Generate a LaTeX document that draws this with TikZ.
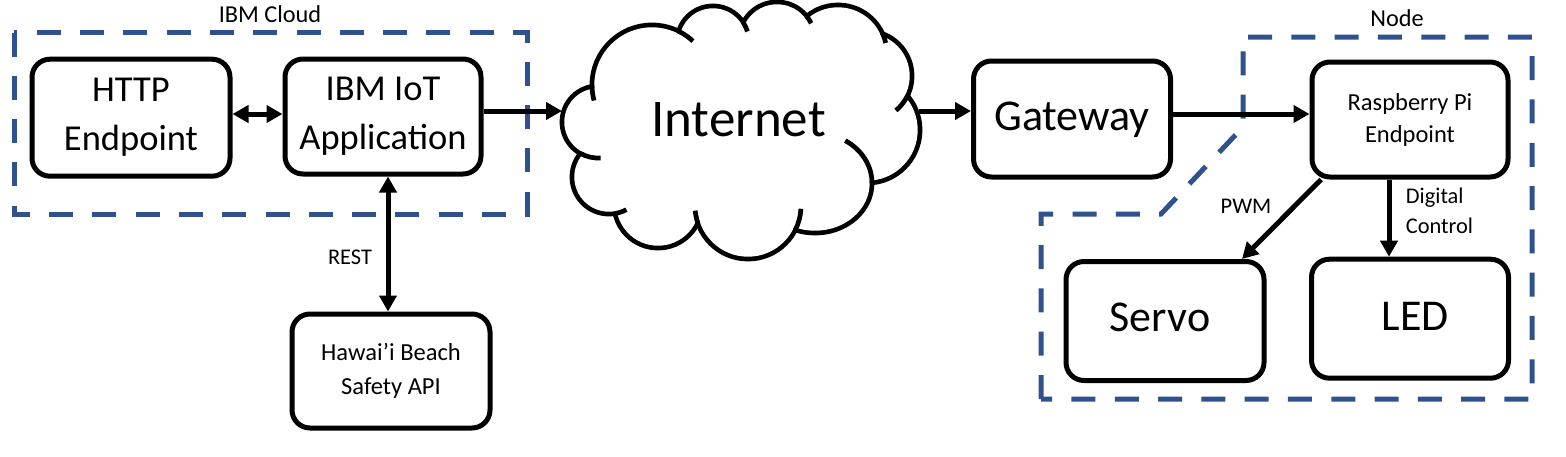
\documentclass[tikz,border=0pt]{standalone}
\usepackage{fontspec}
\setmainfont{Carlito}
\usetikzlibrary{arrows.meta}
\definecolor{dashblue}{HTML}{2F528F}
\newcommand\fsBig{\fontsize{36.5}{49}\selectfont}
\newcommand\fsGate{\fontsize{44}{50}\selectfont}
\newcommand\fsNet{\fontsize{53}{60}\selectfont}
\newcommand\fsRpi{\fontsize{24.5}{32}\selectfont}
\newcommand\fsHaw{\fontsize{24.5}{33.4}\selectfont}
\newcommand\fsLbl{\fontsize{24.3}{30}\selectfont}
\newcommand\fsSml{\fontsize{22.4}{30}\selectfont}
\begin{document}
\begin{tikzpicture}[x=1pt,y=-1pt,
  box/.style={draw=black, line width=5pt, rounded corners=18pt, fill=white, align=center, inner sep=0pt},
  arr/.style={line width=5pt, -{Triangle[length=16pt,width=17pt]}},
  darr/.style={line width=5pt, {Triangle[length=16pt,width=17pt]}-{Triangle[length=16pt,width=17pt]}},
  region/.style={draw=dashblue, line width=5pt, dash pattern=on 24pt off 19.3pt},
  lbl/.style={anchor=base, inner sep=0pt},
  cloudline/.style={line width=4.7pt, line cap=butt},
]
\useasboundingbox (0,0) rectangle (1566,456);
\fill[white] (0,0) rectangle (1566,456);

% dashed regions
\draw[region] (14,32.5) rectangle (527,214);
\draw[region] (1041,399) -- (1041,214) -- (1161,214) -- (1243,127) -- (1243,37) -- (1532,37) -- (1532,399) -- cycle;

% boxes
\node[box, minimum width=198pt, minimum height=117pt, font=\fsBig] (http) at (131,117.7) {HTTP\\Endpoint};
\node[box, minimum width=196pt, minimum height=115pt, font=\fsBig] (iot) at (383,116.5) {IBM IoT\\Application};
\node[box, minimum width=198pt, minimum height=114pt, font=\fsHaw] (hawaii) at (391,371) {Hawai’i Beach\\Safety API};
\node[box, minimum width=197pt, minimum height=116pt, font=\fsGate, text height=22pt, text depth=0pt] (gateway) at (1072,119) {Gateway};
\node[box, minimum width=196pt, minimum height=115pt, font=\fsRpi] (rpi) at (1410,119.5) {Raspberry Pi\\Endpoint};
\node[box, minimum width=198pt, minimum height=119pt, font=\fsGate, text height=21.2pt, text depth=0pt] (servo) at (1165,321) {Servo\hspace*{10pt}};
\node[box, minimum width=197pt, minimum height=119pt, font=\fsGate, text height=22.6pt, text depth=0pt] (led) at (1410,318.7) {\hspace*{11pt}LED};

% cloud
\foreach \cx/\cy/\r in {598/122/36, 652/85/60, 713/42/36, 777/40/38, 838/54/49, 867/76/45, 867/130/53, 748/206/53, 658/204/44, 609/177/37}
  {\draw[line width=9.4pt] (\cx,\cy) circle[radius=\r-2.3];}
\draw[line width=9.4pt] (815,183) ellipse[x radius=54.7, y radius=47.7];
\foreach \cx/\cy/\r in {598/122/36, 652/85/60, 713/42/36, 777/40/38, 838/54/49, 867/76/45, 867/130/53, 748/206/53, 658/204/44, 609/177/37}
  {\fill[white] (\cx,\cy) circle[radius=\r-2.3];}
\fill[white] (815,183) ellipse[x radius=54.7, y radius=47.7];
\fill[white] (598,122) -- (652,85) -- (713,42) -- (777,40) -- (838,54) -- (867,76) -- (867,130) -- (815,183) -- (748,206) -- (658,204) -- (609,177) -- cycle;
% cloud inner stubs
\draw[cloudline] (652,85) ++(179:60) arc[start angle=179, end angle=165, radius=60];
\draw[cloudline] (652,85) ++(-64:60) arc[start angle=-64, end angle=-47, radius=60];
\draw[cloudline] (713,42) ++(-33:36) arc[start angle=-33, end angle=-17, radius=36];
\draw[cloudline] (777,40) ++(-39:38) arc[start angle=-39, end angle=-26, radius=38];
\draw[cloudline] (838,54) ++(-25:49) arc[start angle=-25, end angle=-13, radius=49];
\draw[cloudline] (867,76) ++(26:45) arc[start angle=26, end angle=50, radius=45];
\draw[cloudline] (815,183) ++(-58:57 and 50) arc[start angle=-58, end angle=0, x radius=57, y radius=50];
\draw[cloudline] (748,206) ++(27:53) arc[start angle=27, end angle=3, radius=53];
\draw[cloudline] (748,206) ++(161:53) arc[start angle=161, end angle=175, radius=53];
\draw[cloudline] (609,177) ++(81:37) arc[start angle=81, end angle=62, radius=37];
\draw[cloudline] (598,122) ++(119:36) arc[start angle=119, end angle=86, radius=36];
\node[font=\fsNet, inner sep=0pt] (internet) at (738.5,120) {Internet};

% labels
\node[lbl, font=\fsLbl] (cloudlbl) at (270,22.7) {IBM Cloud};
\node[lbl, font=\fsLbl] (nodelbl) at (1397,26.7) {Node};
\node[lbl, font=\fsSml] (rest) at (350,264) {REST};
\node[lbl, font=\fsSml] (pwm) at (1246,213.5) {PWM};
\node[anchor=base west, inner sep=0pt, font=\fsSml] (dig) at (1405.7,203) {Digital};
\node[anchor=base west, inner sep=0pt, font=\fsSml] (ctl) at (1405.7,233.3) {Control};

% connectors
\coordinate (yA) at (0,114);
\coordinate (cloudW) at (562,111);
\coordinate (cloudE) at (919,111);
\coordinate (xV) at (388,0);
\draw[darr] (http.east |- yA) -- (iot.west |- yA);
\draw[arr] (iot.east |- cloudW) -- (cloudW);
\draw[darr] (iot.south -| xV) -- (hawaii.north -| xV);
\draw[arr] (cloudE) -- (gateway.west |- cloudE);
\draw[arr] (gateway.east |- yA) -- (rpi.west |- yA);
\draw[arr] (rpi.-146) -- ([xshift=77pt]servo.north);
\draw[arr] ([xshift=-21pt]rpi.south) -- ([xshift=-21pt]led.north);
\end{tikzpicture}
\end{document}
